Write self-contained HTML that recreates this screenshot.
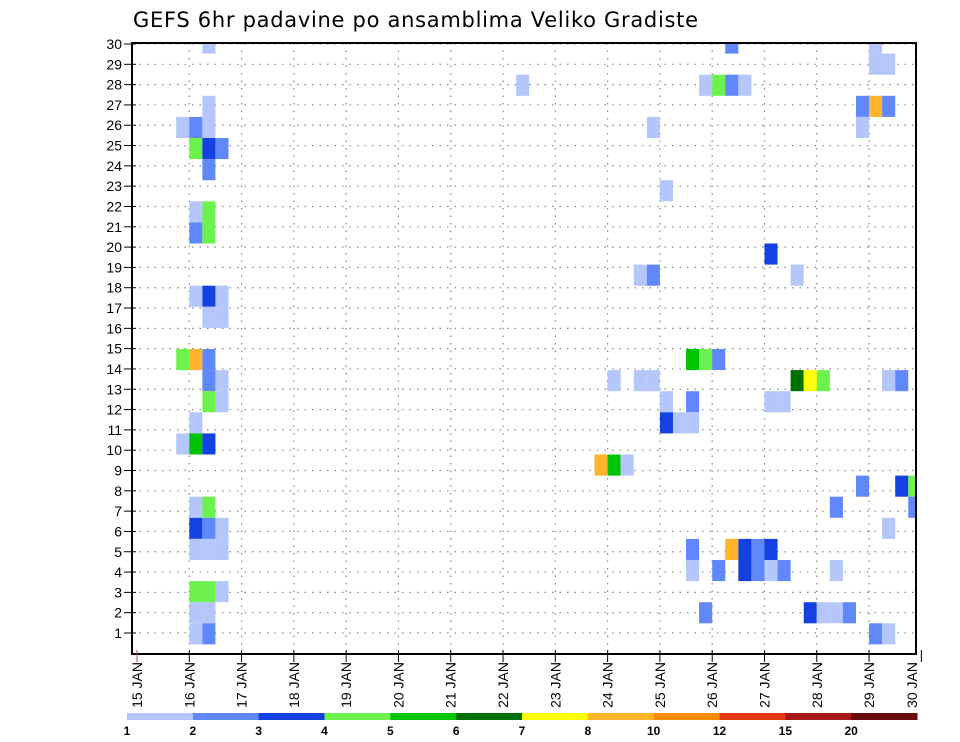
<!DOCTYPE html>
<html><head><meta charset="utf-8"><style>
body{margin:0;background:#fff;width:960px;height:742px;overflow:hidden}
svg{display:block;font-family:"Liberation Sans",sans-serif}
</style></head><body>
<svg id="chart" width="960" height="742" viewBox="0 0 960 742">
<text x="133" y="27" font-size="21" fill="#000" font-family="DejaVu Sans, sans-serif" textLength="565">GEFS 6hr padavine po ansamblima Veliko Gradiste</text>
<g id="grid"></g>
<g id="cells"></g>
<g id="axes"></g>
<g id="cbar"></g>
</svg>
<script>
// time step index (6h steps since 15 JAN 00z), ensemble member, 6h precip (mm)
const steps =   [5,5,3,4,5,4,5,6,5,4,5,4,5,4,5,6,5,6,3,4,5,5,6,5,6,4,3,4,5,4,5,4,5,6,4,5,6,4,5,6,4,5,4,5,
  42,43,44,36,38,39,50,51,52,57,58,40,42,48,49,40,41,42,35,36,37,55,58,59,53,59,57,42,45,46,47,48,42,44,46,47,48,49,53,43,51,52,53,54,56,57,
  45,56,56,57,29,43,44,45,46,55,56,57,39,55,40,48,38,39,50];
const members = [30,27,26,26,26,25,25,25,24,22,22,21,21,18,18,18,17,17,15,15,15,14,14,13,13,12,11,11,11,8,8,7,7,7,6,6,6,4,4,4,3,3,2,2,
  15,15,15,14,14,14,14,14,14,14,14,13,13,13,13,12,12,12,10,10,10,9,9,9,8,8,7,6,6,6,6,6,5,5,5,5,5,5,5,3,3,3,3,3,2,2,
  30,30,29,29,28,28,28,28,28,27,27,27,26,26,23,20,19,19,19];
const values =  [1.5,1.5,1.5,2.5,1.5,4.5,3.5,2.5,2.5,1.5,4.5,2.5,4.5,1.5,3.5,1.5,1.5,1.5,4.5,9,2.5,2.5,1.5,4.5,1.5,1.5,1.5,5.5,3.5,1.5,4.5,3.5,2.5,1.5,1.5,1.5,1.5,4.5,4.5,1.5,1.5,1.5,1.5,2.5,
  5.5,4.5,2.5,1.5,1.5,1.5,6.5,7.5,4.5,1.5,2.5,1.5,2.5,1.5,1.5,3.5,1.5,1.5,9,5.5,1.5,2.5,3.5,4.5,2.5,2.5,1.5,2.5,9,3.5,2.5,3.5,1.5,2.5,3.5,2.5,1.5,2.5,1.5,2.5,3.5,1.5,1.5,2.5,2.5,1.5,
  2.5,1.5,1.5,1.5,1.5,1.5,4.5,2.5,1.5,2.5,9,2.5,1.5,1.5,1.5,3.5,1.5,2.5,1.5];
const dayLabels = ["15 JAN","16 JAN","17 JAN","18 JAN","19 JAN","20 JAN","21 JAN","22 JAN","23 JAN","24 JAN","25 JAN","26 JAN","27 JAN","28 JAN","29 JAN","30 JAN"];
const levelLabels = ["1","2","3","4","5","6","7","8","10","12","15","20"];
const levels = [1,2,3,4,5,6,7,8,10,12,15,20];
const levelColors = ["#b4c6fb","#6087fb","#1442e2","#6bf24c","#00c400","#007000","#ffff00","#ffb42a","#ff8a00","#e23c14","#a81818","#660a0a"];

const NS="http://www.w3.org/2000/svg";
const L=132,R=916,T=43,B=654,X0=137,DAY=52.29;
const xStep=s=>X0+s*DAY/4;
const cellTop=m=>32.5+(30-m)*21.1;
const yRow=n=>44+(30-n)*20.31;
function mk(tag,attrs,parent){const e=document.createElementNS(NS,tag);for(const k in attrs)e.setAttribute(k,attrs[k]);parent.appendChild(e);return e;}
function colorFor(v){let c=levelColors[0];for(let i=0;i<levels.length;i++)if(v>=levels[i])c=levelColors[i];return c;}

const grid=document.getElementById('grid');
for(let n=1;n<=30;n++){
  const l=mk('line',{x1:L,x2:R,y1:yRow(n),y2:yRow(n),stroke:'#888','stroke-width':1.2,'stroke-dasharray':'1.5 6'},grid);
  
  
}
for(let d=1;d<dayLabels.length-1;d++){
  const l=mk('line',{x1:X0+d*DAY,x2:X0+d*DAY,y1:T,y2:B,stroke:'#888','stroke-width':1.2,'stroke-dasharray':'1.5 6'},grid);
  
  
}
const cells=document.getElementById('cells');
for(let i=0;i<steps.length;i++){
  const x=xStep(steps[i]);let y=cellTop(members[i]);let h=21.1;
  if(y<T){h-=T-y;y=T;}
  const w=Math.min(DAY/4,R-x);
  const r=mk('rect',{x:x,y:y,width:w,height:h,fill:colorFor(values[i])},cells);
  
  
}
const axes=document.getElementById('axes');
const fr=mk('rect',{x:L,y:T,width:R-L,height:B-T,fill:'none',stroke:'#000','stroke-width':2},axes);


for(let n=1;n<=30;n++){
  mk('line',{x1:L-8,x2:L+4,y1:yRow(n),y2:yRow(n),stroke:'#000','stroke-width':1},axes);
  const t=mk('text',{x:L-10,y:yRow(n)+5,'font-size':14,'text-anchor':'end'},axes);
  t.textContent=n;
  
  
}
for(let d=0;d<dayLabels.length;d++){
  const x=X0+d*DAY;
  mk('line',{x1:x,x2:x,y1:B-4,y2:B+8,stroke:d==0?'#c44':'#000','stroke-width':1},axes);
  const tx=Math.min(x,912);
  const t=mk('text',{x:0,y:0,'font-size':14,'text-anchor':'end',transform:`translate(${tx+5},${B+8}) rotate(-90)`},axes);
  t.textContent=dayLabels[d];
  
  
}
const cb=document.getElementById('cbar');
const cbW=(917-127)/levelColors.length;
for(let i=0;i<levelColors.length;i++){
  const r=mk('rect',{x:127+i*cbW,y:713,width:cbW+0.5,height:7,fill:levelColors[i]},cb);
  
  
  const t=mk('text',{x:127+i*cbW,y:735,'font-size':12,'font-weight':'bold','text-anchor':'middle'},cb);
  t.textContent=levelLabels[i];
  
  
}
</script>
</body></html>
